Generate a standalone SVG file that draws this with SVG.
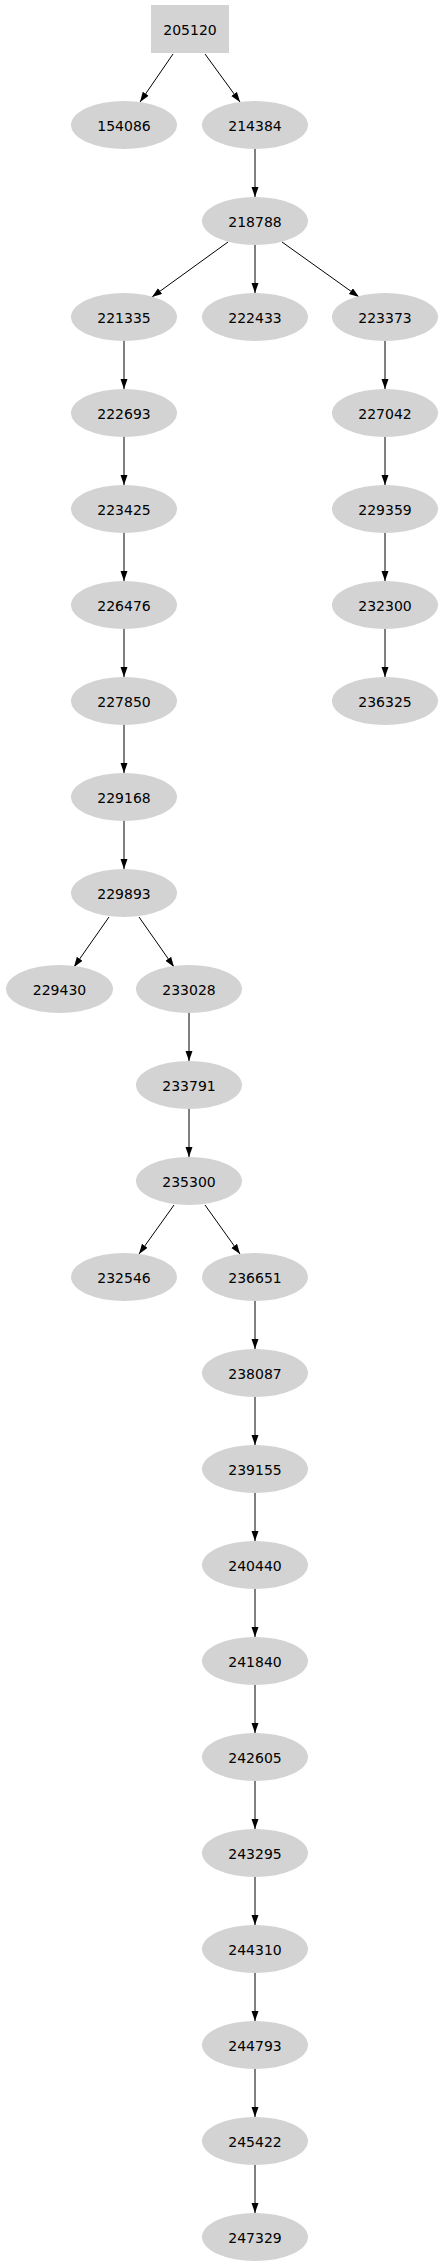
<svg xmlns="http://www.w3.org/2000/svg" width="444" height="2267" viewBox="0 0 444 2267">
<style>
.n ellipse, .n rect { fill: #d3d3d3; stroke: none; }
.n text { font-family: "DejaVu Sans", "Liberation Sans", sans-serif; font-size: 14px; fill: #000; text-anchor: middle; }
.e line { stroke: #000; stroke-width: 1; marker-end: url(#ah); }
</style>
<defs>
<marker id="ah" markerUnits="userSpaceOnUse" markerWidth="10" markerHeight="8" refX="10" refY="3.5" orient="auto">
<path d="M0,0 L10,3.5 L0,7 z" fill="#000"/>
</marker>
</defs>
<rect width="444" height="2267" fill="#fff"/>
<g id="edges" class="e">
<line x1="173" y1="54" x2="140" y2="102"/>
<line x1="205" y1="54" x2="240" y2="102"/>
<line x1="255" y1="149" x2="255" y2="197"/>
<line x1="228" y1="242" x2="152" y2="297"/>
<line x1="255" y1="245" x2="255" y2="293"/>
<line x1="282" y1="242" x2="359" y2="297"/>
<line x1="124" y1="341" x2="124" y2="389"/>
<line x1="124" y1="437" x2="124" y2="485"/>
<line x1="124" y1="533" x2="124" y2="581"/>
<line x1="124" y1="629" x2="124" y2="677"/>
<line x1="124" y1="725" x2="124" y2="773"/>
<line x1="124" y1="821" x2="124" y2="869"/>
<line x1="385" y1="341" x2="385" y2="389"/>
<line x1="385" y1="437" x2="385" y2="485"/>
<line x1="385" y1="533" x2="385" y2="581"/>
<line x1="385" y1="629" x2="385" y2="677"/>
<line x1="109" y1="917" x2="74" y2="967"/>
<line x1="139" y1="917" x2="174" y2="967"/>
<line x1="189" y1="1013" x2="189" y2="1061"/>
<line x1="189" y1="1109" x2="189" y2="1157"/>
<line x1="174" y1="1205" x2="139" y2="1254"/>
<line x1="205" y1="1205" x2="240" y2="1254"/>
<line x1="255" y1="1301" x2="255" y2="1349"/>
<line x1="255" y1="1397" x2="255" y2="1445"/>
<line x1="255" y1="1493" x2="255" y2="1541"/>
<line x1="255" y1="1589" x2="255" y2="1637"/>
<line x1="255" y1="1685" x2="255" y2="1733"/>
<line x1="255" y1="1781" x2="255" y2="1829"/>
<line x1="255" y1="1877" x2="255" y2="1925"/>
<line x1="255" y1="1973" x2="255" y2="2021"/>
<line x1="255" y1="2069" x2="255" y2="2117"/>
<line x1="255" y1="2165" x2="255" y2="2213"/>
</g>
<g id="n205120" class="n"><rect x="151" y="5" width="78" height="48"/><text x="190" y="35">205120</text></g>
<g id="n154086" class="n"><ellipse cx="124" cy="125" rx="53" ry="24"/><text x="124" y="131">154086</text></g>
<g id="n214384" class="n"><ellipse cx="255" cy="125" rx="53" ry="24"/><text x="255" y="131">214384</text></g>
<g id="n218788" class="n"><ellipse cx="255" cy="221" rx="53" ry="24"/><text x="255" y="227">218788</text></g>
<g id="n221335" class="n"><ellipse cx="124" cy="317" rx="53" ry="24"/><text x="124" y="323">221335</text></g>
<g id="n222433" class="n"><ellipse cx="255" cy="317" rx="53" ry="24"/><text x="255" y="323">222433</text></g>
<g id="n223373" class="n"><ellipse cx="385" cy="317" rx="53" ry="24"/><text x="385" y="323">223373</text></g>
<g id="n222693" class="n"><ellipse cx="124" cy="413" rx="53" ry="24"/><text x="124" y="419">222693</text></g>
<g id="n227042" class="n"><ellipse cx="385" cy="413" rx="53" ry="24"/><text x="385" y="419">227042</text></g>
<g id="n223425" class="n"><ellipse cx="124" cy="509" rx="53" ry="24"/><text x="124" y="515">223425</text></g>
<g id="n229359" class="n"><ellipse cx="385" cy="509" rx="53" ry="24"/><text x="385" y="515">229359</text></g>
<g id="n226476" class="n"><ellipse cx="124" cy="605" rx="53" ry="24"/><text x="124" y="611">226476</text></g>
<g id="n232300" class="n"><ellipse cx="385" cy="605" rx="53" ry="24"/><text x="385" y="611">232300</text></g>
<g id="n227850" class="n"><ellipse cx="124" cy="701" rx="53" ry="24"/><text x="124" y="707">227850</text></g>
<g id="n236325" class="n"><ellipse cx="385" cy="701" rx="53" ry="24"/><text x="385" y="707">236325</text></g>
<g id="n229168" class="n"><ellipse cx="124" cy="797" rx="53" ry="24"/><text x="124" y="803">229168</text></g>
<g id="n229893" class="n"><ellipse cx="124" cy="893" rx="53" ry="24"/><text x="124" y="899">229893</text></g>
<g id="n229430" class="n"><ellipse cx="59.5" cy="989" rx="53.5" ry="24"/><text x="59.5" y="995">229430</text></g>
<g id="n233028" class="n"><ellipse cx="189" cy="989" rx="53" ry="24"/><text x="189" y="995">233028</text></g>
<g id="n233791" class="n"><ellipse cx="189" cy="1085" rx="53" ry="24"/><text x="189" y="1091">233791</text></g>
<g id="n235300" class="n"><ellipse cx="189" cy="1181" rx="53" ry="24"/><text x="189" y="1187">235300</text></g>
<g id="n232546" class="n"><ellipse cx="124" cy="1277" rx="53" ry="24"/><text x="124" y="1283">232546</text></g>
<g id="n236651" class="n"><ellipse cx="255" cy="1277" rx="53" ry="24"/><text x="255" y="1283">236651</text></g>
<g id="n238087" class="n"><ellipse cx="255" cy="1373" rx="53" ry="24"/><text x="255" y="1379">238087</text></g>
<g id="n239155" class="n"><ellipse cx="255" cy="1469" rx="53" ry="24"/><text x="255" y="1475">239155</text></g>
<g id="n240440" class="n"><ellipse cx="255" cy="1565" rx="53" ry="24"/><text x="255" y="1571">240440</text></g>
<g id="n241840" class="n"><ellipse cx="255" cy="1661" rx="53" ry="24"/><text x="255" y="1667">241840</text></g>
<g id="n242605" class="n"><ellipse cx="255" cy="1757" rx="53" ry="24"/><text x="255" y="1763">242605</text></g>
<g id="n243295" class="n"><ellipse cx="255" cy="1853" rx="53" ry="24"/><text x="255" y="1859">243295</text></g>
<g id="n244310" class="n"><ellipse cx="255" cy="1949" rx="53" ry="24"/><text x="255" y="1955">244310</text></g>
<g id="n244793" class="n"><ellipse cx="255" cy="2045" rx="53" ry="24"/><text x="255" y="2051">244793</text></g>
<g id="n245422" class="n"><ellipse cx="255" cy="2141" rx="53" ry="24"/><text x="255" y="2147">245422</text></g>
<g id="n247329" class="n"><ellipse cx="255" cy="2237" rx="53" ry="24"/><text x="255" y="2243">247329</text></g>
</svg>
